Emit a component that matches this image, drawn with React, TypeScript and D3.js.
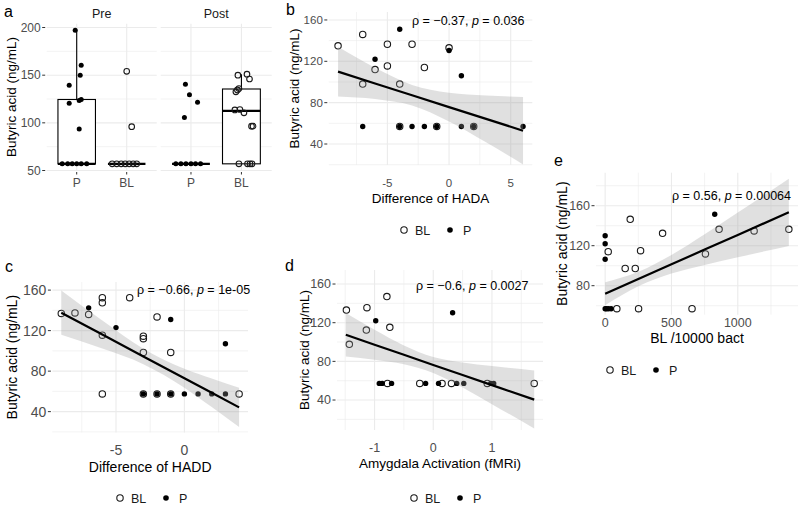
import * as d3 from "d3";

type Pt = [number, number];

const FONT = "'Liberation Sans', Arial, Helvetica, sans-serif";
const GRID = "#ebebeb";
const TICK_TXT = "#4d4d4d";

// ---- panel a: butyric acid by group, [jitter offset (category units), ng/mL]
const facetNames = ["Pre", "Post"];
const groupNames = ["P", "BL"];
const prePPts: Pt[] = [
  [-0.03, 197], [0.09, 160.5], [0.07, 150], [-0.15, 139.5], [0.09, 124.5], [0.05, 123.5],
  [-0.15, 120.5], [0.05, 93.5], [-0.29, 57], [-0.18, 57], [-0.09, 57], [0, 57], [0.09, 57], [0.2, 57],
];
const preBLPts: Pt[] = [
  [0, 154], [0.1, 96], [-0.29, 57], [-0.2, 57], [-0.11, 57], [-0.03, 57], [0.05, 57], [0.13, 57], [0.2, 57],
];
const postPPts: Pt[] = [
  [-0.11, 140.5], [-0.03, 129.5], [0.13, 121.5], [-0.13, 105.5],
  [-0.3, 57], [-0.2, 57], [-0.1, 57], [0, 57], [0.09, 57], [0.19, 57],
];
const postBLPts: Pt[] = [
  [-0.07, 150], [0.11, 151], [0.16, 146], [-0.05, 136], [-0.08, 134.5], [-0.11, 132.5],
  [-0.13, 113.5], [-0.03, 114], [0.05, 110.5], [0.2, 96.5], [0.23, 96.5],
  [-0.05, 57], [0.12, 57], [0.17, 57], [0.21, 57],
];
// box stats: q1, median, q3, lower whisker, upper whisker
const prePBox = [57, 57, 124.5, 57, 197];
const preBLBox = [57, 57, 57, 57, 57];
const postPBox = [57, 57, 57, 57, 57];
const postBLBox = [57, 112.5, 135.5, 57, 151];

// ---- panel b: difference of HADA
const hadaBL: Pt[] = [
  [-9, 135], [-7, 146], [-7, 98], [-6, 112], [-5, 136.5], [-5, 115.5], [-4, 98], [-3, 136.5],
  [-2, 114], [0, 133], [-4, 57], [-1, 57], [2, 57],
];
const hadaP: Pt[] = [
  [-4, 151], [-6, 122], [0, 130.5], [1, 106], [-7, 57], [-4, 57], [-3, 57], [-2, 57], [-1, 57],
  [1, 57], [2, 57], [6, 57],
];
const hadaFitX = [-9, -6, -3, 0, 3, 6];
const hadaFitY = [110, 98.6, 87.2, 75.7, 64.3, 52.9];
const hadaLo = [86, 83.5, 77.2, 61.7, 41.6, 20.3];
const hadaHi = [134, 113.7, 97.2, 89.7, 87, 85.5];

// ---- panel c: difference of HADD
const haddBL: Pt[] = [
  [-9, 137], [-8, 137.5], [-7, 136], [-6, 152.5], [-6, 147.5], [-6, 115.5], [-6, 57.5],
  [-4, 152.5], [-3, 114.5], [-3, 112], [-3, 98.5], [-2, 133.5], [-1, 98.5], [4, 57.5],
  [-3, 57.5], [-2, 57.5], [-1, 57.5],
];
const haddP: Pt[] = [
  [-7, 142.5], [-5, 123], [-1, 131], [3, 107], [-3, 57.5], [-2, 57.5], [-1, 57.5], [0, 57.5],
  [1, 57.5], [2, 57.5], [3, 57.5],
];
const haddFitX = [-9, -6, -3, 0, 2, 4];
const haddFitY = [137.6, 116.1, 94.5, 73, 58.6, 44.2];
const haddLo = [116, 102.3, 86.9, 63.7, 44.5, 24.8];
const haddHi = [159.6, 129.9, 102.1, 82.3, 72.7, 63.6];

// ---- panel d: amygdala activation
const amyBL: Pt[] = [
  [-1.48, 133], [-1.43, 97.6], [-1.13, 135.5], [-1.14, 112.4], [-0.79, 147], [-0.74, 115.2],
  [-0.78, 57.2], [-0.23, 57.2], [0.15, 57.2], [0.31, 57.2], [0.92, 57.2], [1.72, 57.2],
];
const amyP: Pt[] = [
  [-0.98, 122], [0.33, 130.3], [-0.92, 57.2], [-0.87, 57.2], [-0.71, 57.2], [-0.13, 57.2],
  [0.09, 57.2], [0.4, 57.2], [0.52, 57.2], [0.98, 57.2], [1.03, 57.2],
];
const amyFitX = [-1.49, -1, -0.5, 0, 0.5, 1, 1.72];
const amyFitY = [107.5, 97.2, 86.8, 76.3, 65.9, 55.4, 40.4];
const amyLo = [85, 81.7, 77.1, 68, 52.9, 35.7, 10.6];
const amyHi = [130, 112.7, 96.5, 84.6, 78.9, 75.1, 70.6];

// ---- panel e: BL per 10000 bacteria
const bactBL: Pt[] = [
  [189, 146.4], [23, 114], [151, 97.2], [227, 97.2], [267, 115], [433, 132.4], [756, 111.8],
  [859, 136.4], [1123, 134.8], [1385, 136.4], [88, 57], [252, 57], [655, 57],
];
const bactP: Pt[] = [
  [826, 151.4], [0, 130], [0, 122], [0, 106.5], [0, 57], [10, 57], [25, 57], [45, 57],
];
const bactFitX = [0, 250, 500, 750, 1000, 1385];
const bactFitY = [72, 86.7, 101.4, 116.1, 130.8, 153.4];
const bactLo = [60.5, 79.5, 92.1, 100.8, 108.4, 119.8];
const bactHi = [83.5, 93.9, 110.7, 131.4, 153.2, 187];

function Legend({ cx, cy }: { cx: number; cy: number }) {
  return (
    <g fontSize={12.5} fill="#1a1a1a">
      <circle cx={cx} cy={cy} r={3.2} fill="none" stroke="#1a1a1a" strokeWidth={1.1} />
      <text x={cx + 11} y={cy + 4.5}>BL</text>
      <circle cx={cx + 46} cy={cy} r={2.8} fill="#000" />
      <text x={cx + 59} y={cy + 4.5}>P</text>
    </g>
  );
}

function Scatter(p: any) {
  const x = d3.scaleLinear().domain(p.xDomain).range([p.left, p.right]);
  const y = d3.scaleLinear().domain(p.yDomain).range([p.bottom, p.top]);
  const idx = d3.range(p.fitX.length);
  const band = d3
    .area<number>()
    .x((i) => x(p.fitX[i]))
    .y0((i) => y(p.lo[i]))
    .y1((i) => y(p.hi[i]))
    .curve(d3.curveMonotoneX);
  const fit = d3
    .line<number>()
    .x((i) => x(p.fitX[i]))
    .y((i) => y(p.fitY[i]));
  const ts = p.tickSize;
  return (
    <g>
      {p.yMinor.map((v: number) => (
        <line key={"ym" + v} x1={p.left} x2={p.right} y1={y(v)} y2={y(v)} stroke={GRID} strokeWidth={0.6} />
      ))}
      {p.xMinor.map((v: number) => (
        <line key={"xm" + v} x1={x(v)} x2={x(v)} y1={p.top} y2={p.bottom} stroke={GRID} strokeWidth={0.6} />
      ))}
      {p.yTicks.map((v: number) => (
        <line key={"yg" + v} x1={p.left} x2={p.right} y1={y(v)} y2={y(v)} stroke={GRID} strokeWidth={1.1} />
      ))}
      {p.xTicks.map((v: number) => (
        <line key={"xg" + v} x1={x(v)} x2={x(v)} y1={p.top} y2={p.bottom} stroke={GRID} strokeWidth={1.1} />
      ))}
      {p.bl.map((d: Pt, i: number) => (
        <circle key={"b" + i} cx={x(d[0])} cy={y(d[1])} r={3.2} fill="none" stroke="#1a1a1a" strokeWidth={1.1} />
      ))}
      {p.pp.map((d: Pt, i: number) => (
        <circle key={"p" + i} cx={x(d[0])} cy={y(d[1])} r={2.7} fill="#000" />
      ))}
      <path d={band(idx) || ""} fill="#999" fillOpacity={0.3} />
      <path d={fit(idx) || ""} fill="none" stroke="#000" strokeWidth={2.2} />
      {p.yTicks.map((v: number) => (
        <g key={"yt" + v}>
          <line x1={p.left - 4.5} x2={p.left - 1.5} y1={y(v)} y2={y(v)} stroke="#333" strokeWidth={1} />
          <text x={p.left - 6} y={y(v) + ts * 0.35} textAnchor="end" fontSize={ts} fill={TICK_TXT}>{v}</text>
        </g>
      ))}
      {p.xTicks.map((v: number) => (
        <text key={"xt" + v} x={x(v)} y={p.xTickY} textAnchor="middle" fontSize={ts} fill={TICK_TXT}>{String(v)}</text>
      ))}
      <text x={(p.left + p.right) / 2} y={p.xTitleY} textAnchor="middle" fontSize={p.titleSize} fill="#000">{p.xTitle}</text>
      <text
        transform={`translate(${p.yTitleX},${(p.top + p.bottom) / 2}) rotate(-90)`}
        dy="0.35em"
        textAnchor="middle"
        fontSize={p.titleSize}
        fill="#000"
      >
        Butyric acid (ng/mL)
      </text>
      <text x={p.statX} y={p.statY + 4.5} fontSize={12.5} fill="#000">
        {`ρ = ${p.rho}, `}
        <tspan fontStyle="italic">p</tspan>
        {` = ${p.pval}`}
      </text>
      <text x={p.letterX} y={p.letterY} fontSize={16} fill="#000">{p.letter}</text>
      <Legend cx={p.legendX} cy={p.legendY} />
    </g>
  );
}

function PanelA() {
  const left = 46.7;
  const top = 23.7;
  const bottom = 170.5;
  const facetRanges = [
    [46.7, 156.7],
    [160.7, 271.7],
  ];
  const y = d3.scaleLinear().domain([50, 204]).range([bottom, top]);
  const pts = [
    [prePPts, preBLPts],
    [postPPts, postBLPts],
  ];
  const boxes = [
    [prePBox, preBLBox],
    [postPBox, postBLBox],
  ];
  const yTicks = [50, 100, 150, 200];
  const yMinor = [75, 125, 175];
  return (
    <g>
      {facetNames.map((f, fi) => {
        const [x0, x1] = facetRanges[fi];
        const xs = d3.scalePoint<string>().domain(groupNames).range([x0, x1]).padding(0.6);
        const step = xs.step();
        const bw = step * 0.75;
        return (
          <g key={f}>
            {yMinor.map((v) => (
              <line key={"m" + v} x1={x0} x2={x1} y1={y(v)} y2={y(v)} stroke={GRID} strokeWidth={0.6} />
            ))}
            {yTicks.map((v) => (
              <line key={"g" + v} x1={x0} x2={x1} y1={y(v)} y2={y(v)} stroke={GRID} strokeWidth={1.1} />
            ))}
            {groupNames.map((g) => (
              <line key={"v" + g} x1={xs(g)} x2={xs(g)} y1={top} y2={bottom} stroke={GRID} strokeWidth={1.1} />
            ))}
            <text x={(x0 + x1) / 2} y={18} textAnchor="middle" fontSize={12.5} fill="#1a1a1a">{f}</text>
            {groupNames.map((g, gi) => {
              const cx = xs(g) as number;
              const [q1, med, q3, lo, hi] = boxes[fi][gi];
              return (
                <g key={g}>
                  <line x1={cx} x2={cx} y1={y(q3)} y2={y(hi)} stroke="#000" strokeWidth={1.1} />
                  <line x1={cx} x2={cx} y1={y(q1)} y2={y(lo)} stroke="#000" strokeWidth={1.1} />
                  <rect x={cx - bw / 2} y={y(q3)} width={bw} height={y(q1) - y(q3)} fill="#fff" stroke="#000" strokeWidth={1.1} />
                  <line x1={cx - bw / 2} x2={cx + bw / 2} y1={y(med)} y2={y(med)} stroke="#000" strokeWidth={2.2} />
                  {pts[fi][gi].map((d, i) =>
                    g === "P" ? (
                      <circle key={i} cx={cx + d[0] * step} cy={y(d[1])} r={2.5} fill="#000" />
                    ) : (
                      <circle key={i} cx={cx + d[0] * step} cy={y(d[1])} r={2.8} fill="none" stroke="#1a1a1a" strokeWidth={1.1} />
                    )
                  )}
                  <line x1={cx} x2={cx} y1={bottom + 1.5} y2={bottom + 4} stroke="#333" strokeWidth={1} />
                  <text x={cx} y={187} textAnchor="middle" fontSize={12} fill={TICK_TXT}>{g}</text>
                </g>
              );
            })}
          </g>
        );
      })}
      {yTicks.map((v) => (
        <g key={"t" + v}>
          <line x1={left - 4.5} x2={left - 1.5} y1={y(v)} y2={y(v)} stroke="#333" strokeWidth={1} />
          <text x={left - 6} y={y(v) + 4} textAnchor="end" fontSize={12} fill={TICK_TXT}>{v}</text>
        </g>
      ))}
      <text transform={`translate(11,${(top + bottom) / 2}) rotate(-90)`} dy="0.35em" textAnchor="middle" fontSize={13.5} fill="#000">
        Butyric acid (ng/mL)
      </text>
      <text x={4} y={17} fontSize={16} fill="#000">a</text>
    </g>
  );
}

export default function App() {
  return (
    <svg
      width={800}
      height={505}
      style={{ position: "absolute", left: 0, top: 0, background: "#fff" }}
      fontFamily={FONT}
    >
      <rect width={800} height={505} fill="#fff" />
      <PanelA />
      <Scatter
        left={328.8} right={532.3} top={12} bottom={165}
        xDomain={[-9.75, 6.75]} yDomain={[19.7, 167.7]}
        xTicks={[-5, 0, 5]} xMinor={[-7.5, -2.5, 2.5]}
        yTicks={[40, 80, 120, 160]} yMinor={[20, 60, 100, 140]}
        bl={hadaBL} pp={hadaP} fitX={hadaFitX} fitY={hadaFitY} lo={hadaLo} hi={hadaHi}
        xTitle="Difference of HADA" titleSize={13.5} tickSize={11.5} xTickY={187} xTitleY={203} yTitleX={294}
        rho="−0.37" pval="0.036" statX={412} statY={20}
        letter="b" letterX={286} letterY={15} legendX={404} legendY={230}
      />
      <Scatter
        left={52.4} right={248} top={282} bottom={432.4}
        xDomain={[-9.65, 4.65]} yDomain={[19.5, 168]}
        xTicks={[-5, 0]} xMinor={[-7.5, -2.5, 2.5]}
        yTicks={[40, 80, 120, 160]} yMinor={[20, 60, 100, 140]}
        bl={haddBL} pp={haddP} fitX={haddFitX} fitY={haddFitY} lo={haddLo} hi={haddHi}
        xTitle="Difference of HADD" titleSize={14} tickSize={14} xTickY={455} xTitleY={472} yTitleX={12}
        rho="−0.66" pval="1e-05" statX={137} statY={289}
        letter="c" letterX={5} letterY={272} legendX={120} legendY={498}
      />
      <Scatter
        left={337} right={543} top={270} bottom={430}
        xDomain={[-1.64, 1.87]} yDomain={[9, 174.5]}
        xTicks={[-1, 0, 1]} xMinor={[-1.5, -0.5, 0.5, 1.5]}
        yTicks={[40, 80, 120, 160]} yMinor={[20, 60, 100, 140]}
        bl={amyBL} pp={amyP} fitX={amyFitX} fitY={amyFitY} lo={amyLo} hi={amyHi}
        xTitle="Amygdala Activation (fMRi)" titleSize={13.5} tickSize={12.5} xTickY={452} xTitleY={468} yTitleX={304}
        rho="−0.6" pval="0.0027" statX={416} statY={285}
        letter="d" letterX={285} letterY={271} legendX={414} legendY={498}
      />
      <Scatter
        left={596} right={798} top={172.7} bottom={314.7}
        xDomain={[-69, 1454]} yDomain={[51, 193]}
        xTicks={[0, 500, 1000]} xMinor={[250, 750, 1250]}
        yTicks={[80, 120, 160]} yMinor={[60, 100, 140, 180]}
        bl={bactBL} pp={bactP} fitX={bactFitX} fitY={bactFitY} lo={bactLo} hi={bactHi}
        xTitle="BL /10000 bact" titleSize={14} tickSize={12.5} xTickY={327} xTitleY={343} yTitleX={562}
        rho="0.56" pval="0.00064" statX={672} statY={195}
        letter="e" letterX={554} letterY={166} legendX={610} legendY={370}
      />
    </svg>
  );
}
